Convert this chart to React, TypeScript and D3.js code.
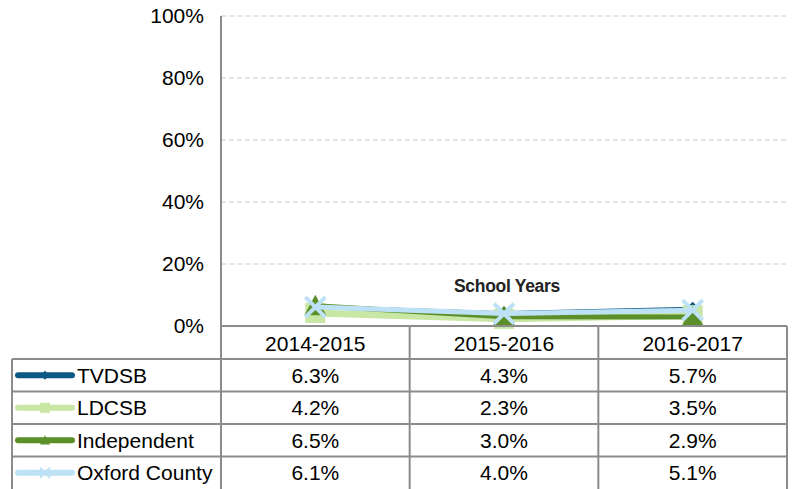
import React from "react";
import * as d3 from "d3";

const categories = ["2014-2015", "2015-2016", "2016-2017"];
const seriesNames = ["TVDSB", "LDCSB", "Independent", "Oxford County"];
const tvdsb = [6.3, 4.3, 5.7];
const ldcsb = [4.2, 2.3, 3.5];
const independent = [6.5, 3.0, 2.9];
const oxford = [6.1, 4.0, 5.1];
const yTicks = [0, 20, 40, 60, 80, 100];

const seriesValues = [tvdsb, ldcsb, independent, oxford];
const colors = ["#0F5A85", "#C8E6A4", "#5B8F2A", "#BDE1F5"];
const widths = [3, 7, 5, 5];
const markers = ["diamond", "square", "triangle", "x"];
const markerSizes = [13, 20, 22, 20];

const W = 792;
const H = 489;
const plotLeft = 221;
const plotRight = 787;
const plotTop = 16;
const plotBottom = 326;
const legendLeft = 12;
const headerBottom = 359;
const rowH = 32.5;
const font = "'Liberation Sans', Arial, sans-serif";
const border = "#8C8C8C";
const fs = 21;

function Marker({ kind, x, y, size, color }: { kind: string; x: number; y: number; size: number; color: string }) {
  const h = size / 2;
  if (kind === "diamond") {
    return <path d={`M${x},${y - h}L${x + h},${y}L${x},${y + h}L${x - h},${y}Z`} fill={color} />;
  }
  if (kind === "square") {
    return <rect x={x - h} y={y - h} width={size} height={size} fill={color} />;
  }
  if (kind === "triangle") {
    return <path d={`M${x},${y - h}L${x + h},${y + h * 0.85}L${x - h},${y + h * 0.85}Z`} fill={color} />;
  }
  return (
    <g stroke={color} strokeWidth={size / 5} strokeLinecap="butt">
      <line x1={x - h} y1={y - h} x2={x + h} y2={y + h} />
      <line x1={x - h} y1={y + h} x2={x + h} y2={y - h} />
    </g>
  );
}

export default function App() {
  const x = d3.scaleBand<string>().domain(categories).range([plotLeft, plotRight]);
  const y = d3.scaleLinear().domain([0, 100]).range([plotBottom, plotTop]);
  const line = d3
    .line<number>()
    .x((_, i) => (x(categories[i]) as number) + x.bandwidth() / 2)
    .y((d) => y(d));

  const rowTops = seriesNames.map((_, i) => headerBottom + i * rowH);

  return (
    <svg width={W} height={H} style={{ position: "absolute", left: 0, top: 0, background: "#fff" }} fontFamily={font}>
      {yTicks.filter((t) => t > 0).map((t) => (
        <line key={t} x1={plotLeft} x2={plotRight} y1={y(t)} y2={y(t)} stroke="#C8C8C8" strokeWidth={1} strokeDasharray="5,3" />
      ))}
      {yTicks.map((t) => (
        <text key={t} x={204} y={y(t)} dy="0.35em" textAnchor="end" fontSize={fs} fill="#000">
          {t}%
        </text>
      ))}
      <line x1={plotLeft} x2={plotLeft} y1={plotTop} y2={H} stroke={border} strokeWidth={2} />

      <text x={(plotLeft + plotRight) / 2 + 3} y={286} dy="0.35em" textAnchor="middle" fontSize={17.5} fontWeight="bold" fill="#222" letterSpacing={-0.3}>
        School Years
      </text>

      {seriesValues.map((vals, si) => (
        <g key={si}>
          <path d={line(vals) || ""} fill="none" stroke={colors[si]} strokeWidth={widths[si]} strokeLinejoin="round" />
          {vals.map((v, i) => (
            <Marker key={i} kind={markers[si]} x={(x(categories[i]) as number) + x.bandwidth() / 2} y={y(v)} size={markerSizes[si]} color={colors[si]} />
          ))}
        </g>
      ))}

      <g stroke={border} strokeWidth={2}>
        <line x1={plotLeft} x2={plotRight} y1={plotBottom} y2={plotBottom} />
        <line x1={legendLeft} x2={plotRight} y1={headerBottom} y2={headerBottom} />
        {rowTops.slice(1).map((rt, i) => (
          <line key={i} x1={legendLeft} x2={plotRight} y1={rt} y2={rt} />
        ))}
        <line x1={legendLeft} x2={legendLeft} y1={headerBottom} y2={H} />
        {categories.map((c) => (
          <line key={c} x1={(x(c) as number) + x.bandwidth()} x2={(x(c) as number) + x.bandwidth()} y1={plotBottom} y2={H} />
        ))}
      </g>
      {categories.map((c) => (
        <text key={c} x={(x(c) as number) + x.bandwidth() / 2} y={(plotBottom + headerBottom) / 2 + 1} dy="0.35em" textAnchor="middle" fontSize={fs} fill="#000">
          {c}
        </text>
      ))}
      {seriesNames.map((name, si) => {
        const cy = rowTops[si] + rowH / 2;
        return (
          <g key={name}>
            <line x1={18} x2={72} y1={cy} y2={cy} stroke={colors[si]} strokeWidth={6} strokeLinecap="round" />
            <Marker kind={markers[si]} x={45} y={cy} size={si === 0 ? 9 : 10} color={colors[si]} />
            <text x={77} y={cy} dy="0.35em" fontSize={fs} fill="#000">
              {name}
            </text>
            {seriesValues[si].map((v, i) => (
              <text key={i} x={(x(categories[i]) as number) + x.bandwidth() / 2} y={cy} dy="0.35em" textAnchor="middle" fontSize={fs} fill="#000">
                {v.toFixed(1)}%
              </text>
            ))}
          </g>
        );
      })}
    </svg>
  );
}
